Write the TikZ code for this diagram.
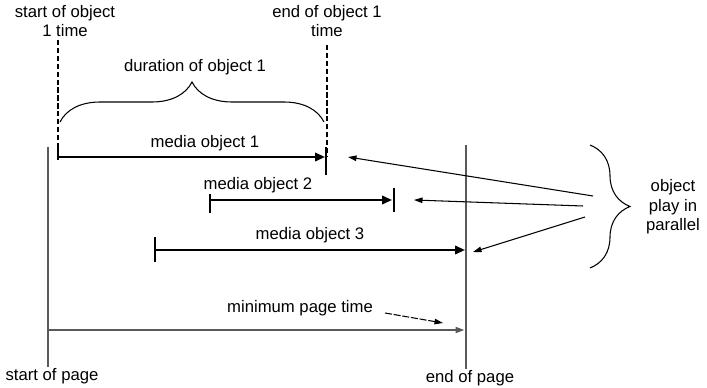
\documentclass[tikz,border=0pt]{standalone}
\usepackage{fontspec}
\setmainfont{Liberation Sans}
\usetikzlibrary{arrows.meta, positioning, decorations.pathreplacing, calc}
\definecolor{gris}{gray}{0.35}

\begin{document}
\begin{tikzpicture}[x=0.02cm, y=-0.02cm, font=\fontsize{9.5}{11}\selectfont,
	lbl/.style={inner sep=1pt, align=center},
	media/.style={line width=1.2pt, -{Triangle[length=0.2cm, width=0.17cm]}},
	tick/.style={line width=1pt},
	pointer/.style={line width=0.6pt, -{Triangle[length=0.17cm, width=0.11cm]}},
	pageline/.style={line width=0.7pt, gris},
	marker/.style={line width=1.2pt, dash pattern=on 3pt off 1.5pt},
	accolade/.style={decorate, decoration={brace, amplitude=0.8cm}, line width=0.6pt}]
	\useasboundingbox (0,0) rectangle (707,388);

	% page limits
	\node[lbl] (startpage) at (52,376) {start of page};
	\node[lbl] (endpage) at (470,378) {end of page};
	\coordinate (ps) at (48,147);
	\coordinate (pe) at (466,145);
	\draw[pageline] (ps) -- (48,367);
	\draw[pageline] (pe) -- (466,369);

	% media objects
	\coordinate (o1s) at (58,157);  \coordinate (o1e) at (325,157);
	\coordinate (o2s) at (210,200); \coordinate (o2e) at (392,200);
	\coordinate (o3s) at (155,250); \coordinate (o3e) at (465,250);
	\draw[media] (o1s) -- (o1e);
	\draw[media] (o2s) -- (o2e);
	\draw[media] (o3s) -- (o3e);
	\draw[tick] (58,143) -- (58,160);
	\draw[tick] (o1e) ++(1,-10) -- ++(0,28);
	\draw[tick] (210,194) -- (210,213);
	\draw[tick] (394,188) -- (394,212);
	\draw[tick] (155,237) -- (155,262);
	\node[lbl] (m1) at (205,143) {media object 1};
	\node[lbl] (m2) at (258,185) {media object 2};
	\node[lbl] (m3) at (310,235) {media object 3};

	% object 1 start and end times
	\node[lbl] (t1s) at (65,21) {start of object\\1 time};
	\node[lbl] (t1e) at (327,21) {end of object 1\\time};
	\draw[marker] (58,40) -- (o1s);
	\draw[marker] (327,45) -- (327,157);
	\draw[accolade] (60,122) -- (324,122);
	\node[lbl] (dur) at (195,67) {duration of object 1};

	% minimum page time
	\draw[line width=0.7pt, gris, -{Triangle[length=0.17cm, width=0.12cm]}, shorten >=1pt] (48,330) -- (466,330);
	\node[lbl] (minp) at (300,308) {minimum page time};
	\coordinate (mp) at (443,323);
	\draw[pointer, dash pattern=on 4pt off 1pt] (385,313) -- (mp);

	% parallel play
	\draw[accolade] (590,145) -- (590,268);
	\node[lbl] (par) at (673,207) {object\\play in\\parallel};
	\coordinate (q1) at (593,196); \coordinate (q2) at (583,206); \coordinate (q3) at (585,217);
	\draw[pointer] (q1) -- (348,157);
	\draw[pointer] (q2) -- (414,200);
	\draw[pointer] (q3) -- (473,252);
\end{tikzpicture}
\end{document}
